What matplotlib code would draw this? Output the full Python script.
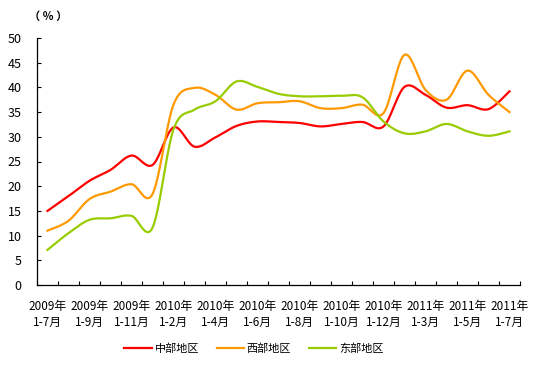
import numpy as np
import matplotlib
matplotlib.use("Agg")
import matplotlib.pyplot as plt

plt.rcParams['font.family'] = ['Noto Sans CJK SC', 'DejaVu Sans']

# 数据
periods = ["2009年\n1-7月", "2009年\n1-8月", "2009年\n1-9月", "2009年\n1-10月", "2009年\n1-11月", "2009年\n1-12月",
           "2010年\n1-2月", "2010年\n1-3月", "2010年\n1-4月", "2010年\n1-5月", "2010年\n1-6月", "2010年\n1-7月",
           "2010年\n1-8月", "2010年\n1-9月", "2010年\n1-10月", "2010年\n1-11月", "2010年\n1-12月",
           "2011年\n1-2月", "2011年\n1-3月", "2011年\n1-4月", "2011年\n1-5月", "2011年\n1-6月", "2011年\n1-7月"]

central = [15.0, 18.0, 21.1, 23.3, 26.2, 24.3, 31.9, 28.0, 29.9, 32.2, 33.1, 33.0,
           32.8, 32.1, 32.6, 33.0, 32.1, 40.1, 38.5, 35.9, 36.4, 35.6, 39.2]
western = [11.0, 13.0, 17.4, 18.9, 20.4, 18.4, 36.5, 39.9, 38.5, 35.5, 36.8, 37.0,
           37.2, 35.8, 35.8, 36.5, 34.8, 46.6, 39.5, 37.5, 43.4, 38.5, 35.0]
eastern = [7.1, 10.5, 13.2, 13.5, 14.0, 11.6, 31.5, 35.5, 37.2, 41.2, 40.1, 38.7,
           38.2, 38.2, 38.3, 38.0, 33.1, 30.7, 31.1, 32.6, 31.1, 30.2, 31.1]

series_names = ["中部地区", "西部地区", "东部地区"]
colors = ["#FF0000", "#FF9900", "#99CC00"]


# 平滑曲线 (Catmull-Rom)
def smooth(y, steps=20):
    y = np.asarray(y, dtype=float)
    x = np.arange(len(y), dtype=float)
    px = np.concatenate([[x[0]], x, [x[-1]]])
    py = np.concatenate([[y[0]], y, [y[-1]]])
    xs, ys = [], []
    t = np.linspace(0, 1, steps, endpoint=False)
    for i in range(1, len(px) - 2):
        p0, p1, p2, p3 = px[i-1], px[i], px[i+1], px[i+2]
        q0, q1, q2, q3 = py[i-1], py[i], py[i+1], py[i+2]
        # bezier control points
        cx1 = p1 + (p2 - p0) / 6
        cx2 = p2 - (p3 - p1) / 6
        cy1 = q1 + (q2 - q0) / 6
        cy2 = q2 - (q3 - q1) / 6
        bx = (1-t)**3*p1 + 3*(1-t)**2*t*cx1 + 3*(1-t)*t**2*cx2 + t**3*p2
        by = (1-t)**3*q1 + 3*(1-t)**2*t*cy1 + 3*(1-t)*t**2*cy2 + t**3*q2
        xs.extend(bx)
        ys.extend(by)
    xs.append(x[-1])
    ys.append(y[-1])
    return np.array(xs), np.array(ys)


fig = plt.figure(figsize=(5.37, 3.66), dpi=100)
ax = fig.add_axes([37/537, 81/366, 483/537, 247/366])

for data, name, c in zip([central, western, eastern], series_names, colors):
    sx, sy = smooth(data)
    ax.plot(sx, sy, color=c, linewidth=1.6, label=name)

n = len(periods)
ax.set_xlim(-0.5, n - 0.5)
ax.set_ylim(0, 50)
ax.set_yticks(np.arange(0, 51, 5))
ax.set_xticks(np.arange(0, n, 2))
ax.set_xticklabels(periods[::2], fontsize=8.5, linespacing=1.3)
ax.set_xticks(np.arange(-0.5, n, 1), minor=True)
ax.tick_params(axis='x', which='major', length=0, pad=11)
ax.tick_params(axis='x', which='minor', direction='in', length=3, width=0.8)
ax.tick_params(axis='y', direction='in', length=3, width=0.8, labelsize=9, pad=11)

for s in ['top', 'right']:
    ax.spines[s].set_visible(False)
for s in ['left', 'bottom']:
    ax.spines[s].set_linewidth(0.9)

fig.text(29/537, 1 - 16/366, "（ ％ ）", fontsize=8, va='center', ha='left', fontweight='bold')

fig.legend(loc='center', bbox_to_anchor=(254/537, 1 - 349/366), ncol=3, frameon=False,
           fontsize=8, handlelength=2.45, columnspacing=1.6, handletextpad=0.25)

fig.savefig("out.png", dpi=100)
